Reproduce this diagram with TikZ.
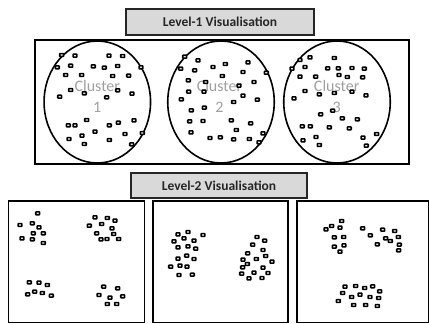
\documentclass[tikz,border=0pt]{standalone}
\usepackage{fontspec}
\setmainfont{Carlito}
\usetikzlibrary{shapes.geometric}
\definecolor{levelgrey}{HTML}{D9D9D9}
\definecolor{clustergrey}{HTML}{A0A0A0}
\begin{document}
\begin{tikzpicture}[x=1pt,y=-1pt,
  dot/.style={draw=black, fill=white, line width=1.65pt, rectangle, rounded corners=0.5pt,
    minimum width=3.8pt, minimum height=2.8pt, inner sep=0pt},
  levelbox/.style={draw=black!85, fill=levelgrey, line width=1.3pt, inner sep=0pt,
    font=\fontsize{13.5}{16}\selectfont\bfseries, text=black!85},
  frame/.style={draw=black, line width=1.6pt},
  clusterring/.style={draw=black, ellipse, line width=1.6pt, minimum width=106.5pt,
    minimum height=122pt, inner sep=0pt},
  clusterlabel/.style={text=clustergrey, align=center, font=\fontsize{16}{21}\selectfont}
]
\useasboundingbox (0,0) rectangle (429,324);

% Level-1
\node[levelbox, minimum width=188pt, minimum height=26pt] (lv1) at (220,22) {Level-1 Visualisation};
\draw[frame] (34.7,40) rectangle (408.7,164);
\node[clusterring] (c1) at (97.3,102) {};
\node[clusterring] (c2) at (221,102) {};
\node[clusterring] (c3) at (337,102) {};
\node[clusterlabel] (t1) at (97.3,96.5) {Cluster\\1};
\node[clusterlabel] (t2) at (219.5,96.5) {Cluster\\2};
\node[clusterlabel] (t3) at (336.7,96.5) {Cluster\\3};

\foreach [count=\i] \x/\y in {61.7/55,75/55.7,109/55.7,122.7/56,57.3/67.3,70.7/65.7,93.3/66.3,104.3/67.7,117.7/66,141/67.3,
  65.7/75,81.7/75,112.7/76,128.7/75.7,70.7/90,84.3/93.3,117.7/90.3,132/93.7,59.7/96.7,106.7/97.3,
  86.7/120,68.3/125.3,75/125.3,109.3/125.3,118.3/122.7,134/120.3,95/131.7,82/135.7,125/134,142.3/133,
  69/139,109.3/140,84.3/144,131.7/144.3}
  \node[dot] (a\i) at (\x,\y) {};

\foreach [count=\i] \x/\y in {184.7/56.7,198/60.3,213/67,225.3/64,248/62.3,180.7/68.7,194.7/70.3,243/72,266.3/72.7,
  222.3/76,188.3/80.3,205.7/82,254/82,239/85.7,188.7/91.7,204/91.7,243/95.7,181.3/99.3,257.3/99.7,233.7/102,
  191.3/110.3,204.3/107.7,189.7/121.3,203/121,231.3/120.3,250.7/123.3,236.3/130,191/132.3,263/133.3,
  210/138,220.3/137.3,233.7/139.3,249.3/139,259/142.3}
  \node[dot] (b\i) at (\x,\y) {};

\foreach [count=\i] \x/\y in {310/57.3,334.3/58,300/60,292/68.7,305/67,327.7/68.3,338.3/68.3,352/68,364.3/68.7,
  300/76.7,315.7/76.7,339/75,347.3/77,362.7/77.3,305/91,319.3/94.3,334.3/93,352/91.7,366/95.3,294/98.3,
  332.7/110.7,320.7/114.3,342.3/118.3,357.3/119.3,302.3/126.3,310.3/126.3,329.3/127.3,349.3/128.3,
  376.7/134,316/137,363/137.7,303/140.3,319.3/145,366.3/145.7}
  \node[dot] (c\i) at (\x,\y) {};

% Level-2
\node[levelbox, minimum width=176pt, minimum height=25pt] (lv2) at (219,185.5) {Level-2 Visualisation};
\draw[frame] (8.3,201) rectangle (144.3,322.6);
\draw[frame] (153,201) rectangle (288,322.6);
\draw[frame] (296.7,201) rectangle (428.5,322.6);

\foreach [count=\i] \x/\y in {37.7/213.3,20/225,32.3/223.3,39/227.3,33.3/233.3,43.3/233.3,22/238.3,32.3/239.3,43.3/243,
  95/217.3,107.3/218,115/220.7,89.3/225.7,101.7/224,112/228.3,96.7/233.3,113.7/234,101/239.3,107/239,118.7/239,
  29.3/282.3,39/282.7,47.3/285,34.7/291.7,42.3/293,27.7/294.3,51.3/295.7,
  103.7/286.7,117.7/288.3,99/295,110/297.7,122.7/296.3,107.3/304,116.7/304}
  \node[dot] (p\i) at (\x,\y) {};

\foreach [count=\i] \x/\y in {178/234.3,188/232,203/235,184/238.3,174/241.3,194/240.7,178/247.3,188/246.3,195.7/248.7,
  186.7/255.7,178/258.7,194/259,170.7/266.7,180/265.7,187/266.7,179/275,192.3/274.7,
  257/237,264.7/240.7,252.7/244.7,263/250,247.7/253.3,265.7/256,256.3/259,272/261.7,243/259.7,247.3/264,
  263/267.7,242.7/267.3,254/272.7,268/273,241.7/273.7,249/278.3,262/278}
  \node[dot] (q\i) at (\x,\y) {};

\foreach [count=\i] \x/\y in {341.7/221,331.7/226,326/229.3,340/227.7,334.3/237.3,343.7/237,334.3/246.7,344/245.3,340/251.7,
  362.7/228.3,370.3/235.3,382.7/229.7,394.7/231,385.7/238.3,390.3/241,398.3/237,399.3/244.7,377.3/244.3,398.7/250.3,
  345/286.7,355.7/286,364.7/288,372.7/286.3,379.7/291.3,342.7/293,351.7/297,360/294.7,370/297,378.7/298,
  338.3/301,353.7/305,365.7/305,377.3/306}
  \node[dot] (r\i) at (\x,\y) {};
\end{tikzpicture}
\end{document}
